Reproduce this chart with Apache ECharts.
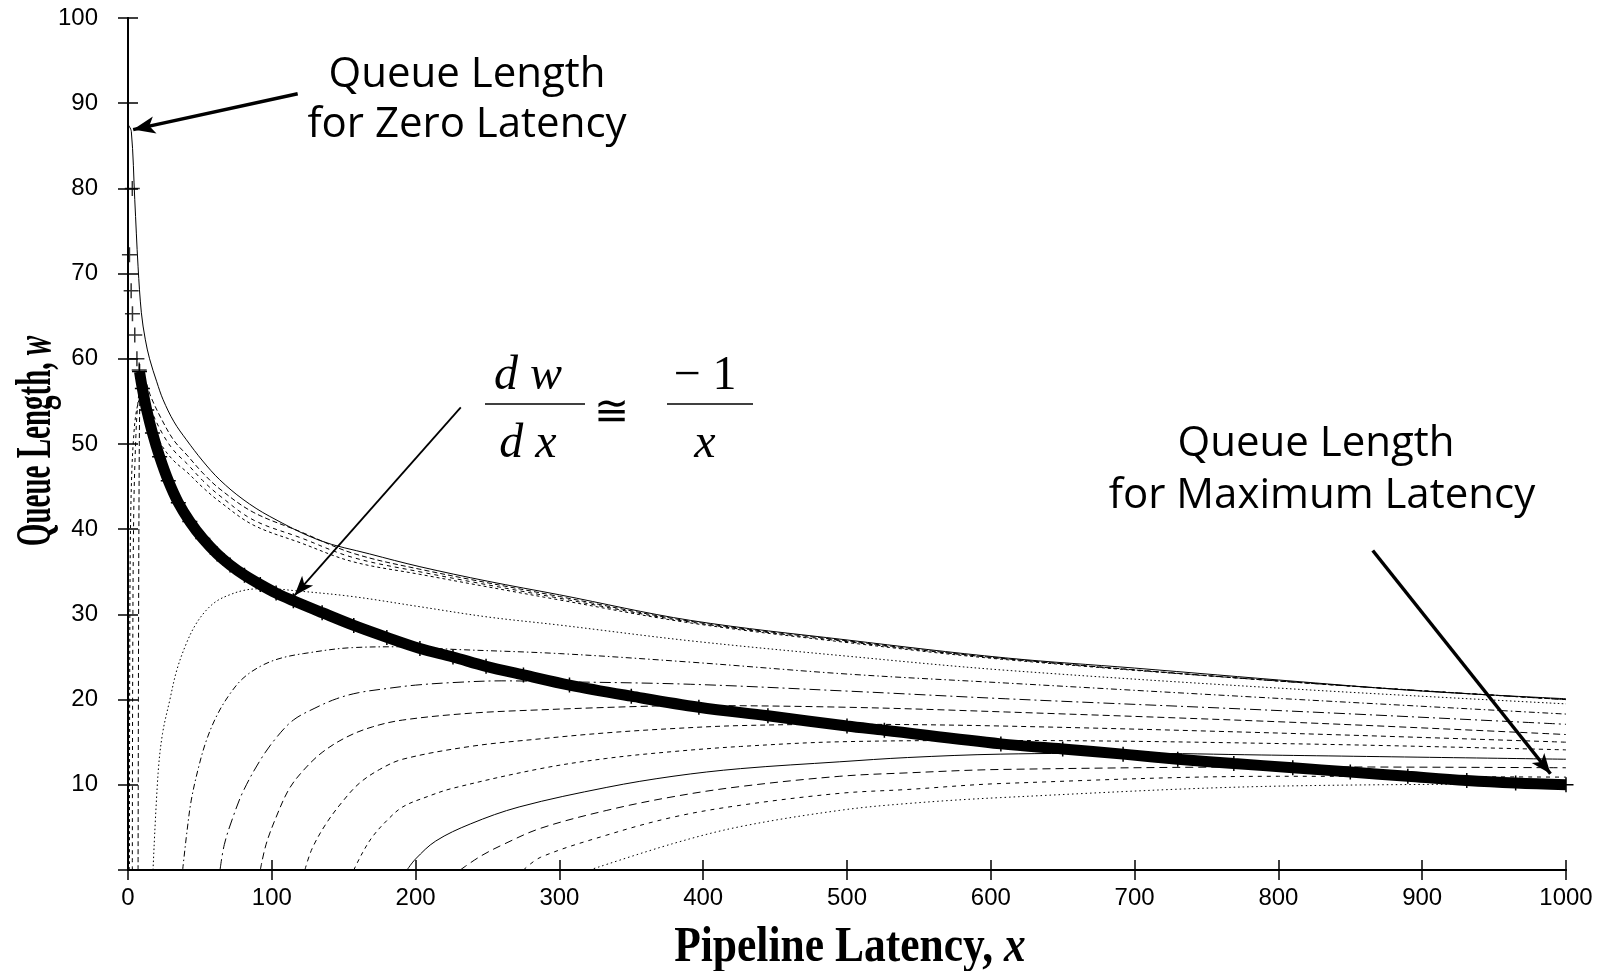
<!DOCTYPE html>
<html>
<head>
<meta charset="utf-8">
<title>Queue Length vs Pipeline Latency</title>
<script src="https://cdn.jsdelivr.net/npm/echarts/dist/echarts.min.js"></script>
<style>
  html, body { margin: 0; padding: 0; background: #fff; }
  #main { width: 1610px; height: 971px; }
</style>
</head>
<body>
<div id="main"></div>
<script>
// axis ticks
var xTicks = [0, 100, 200, 300, 400, 500, 600, 700, 800, 900, 1000];
var yTicks = [0, 10, 20, 30, 40, 50, 60, 70, 80, 90, 100];

// queue length for zero latency (top solid curve)
var zeroLat = [[0,87.5],[2.3,86.7],[4.7,78.7],[7,70.8],[9.3,65.4],[12,62.3],[15,60],[20,57.3],[24.4,55.2],[32,52.6],[40.6,50.5],[52,48],[63.8,45.8],[80,43.5],[98.6,41.5],[133,38.7],[168,37.1],[203,35.6],[250,33.9],[300,32.3],[391,29.3],[500,27],[610,24.9],[700,23.7],[815,22.1],[900,21],[1000,20.1]];

// dashed curves just under it
var upper1 = [[7,0],[7.3,25],[7.7,45],[8.2,55],[9,58.5],[12,57.5],[16,55.5],[24,52.7],[32,50.4],[41,48.7],[52,46.6],[64,44.7],[87,42],[120,39.7],[156,37.2],[203,35.3],[300,32.1],[391,29.2],[500,26.9],[610,24.8],[815,22],[1000,20]];
var upper2 = [[3,0],[3.3,25],[4,42],[5.5,51],[7,55],[9,57],[12,56],[16,54],[24,51.2],[32,49.2],[41,47.7],[52,45.7],[64,43.9],[87,41.1],[120,39],[156,36.7],[203,35],[300,31.9],[391,29.1],[500,26.8],[610,24.8],[815,22],[1000,20]];
var upper3 = [[1,0],[1.2,25],[1.6,38],[2.5,46],[4,51],[6,54],[9,55.5],[12,54.5],[16,52.5],[24,49.7],[32,48],[41,46.7],[52,44.9],[64,43.2],[87,40.5],[120,38.4],[156,36.2],[203,34.7],[300,31.7],[391,29],[500,26.7],[610,24.7],[815,22],[1000,20]];

// curves rising from zero, named by where they leave the x axis
var rise17 = [[17.4,0],[20.9,11.3],[24,16],[29,19.9],[34,23.5],[40.6,26.6],[47,28.8],[54.5,30.5],[62,31.6],[70.7,32.3],[80,32.8],[90,33],[100,33],[115,32.8],[156,32.1],[203,30.9],[250,29.7],[300,28.75],[391,26.9],[500,25.1],[610,23.45],[815,21.2],[1000,19.5]];
var rise38 = [[38,0],[41,4.5],[44,8.2],[49,12],[54.5,15.2],[62,18.2],[71,20.7],[80,22.5],[92,23.9],[105,24.8],[122,25.4],[156,26.1],[190,26.2],[226,25.9],[300,25.4],[391,24.4],[500,23],[610,21.95],[815,20],[1000,18.3]];
var rise64 = [[64,0],[67,3],[73,6.2],[80,9.2],[92,12.9],[103,15.5],[115,17.6],[130,19],[145,20.1],[160,20.8],[180,21.3],[200,21.7],[226,22],[260,22.2],[300,22.1],[391,21.8],[500,21],[610,20.1],[815,18.6],[1000,17.1]];
var rise92 = [[92,0],[96,3],[103,6.2],[112,9.5],[122,11.7],[135,13.8],[152,15.6],[170,16.8],[191,17.6],[238,18.4],[287,18.8],[356,19.2],[391,19.3],[500,19.1],[610,18.55],[815,17.3],[1000,15.9]];
var rise123 = [[123,0],[128,2.5],[138,5.5],[150,8.2],[161,10.2],[175,11.8],[191,13],[238,14.5],[287,15.4],[333,16.1],[379,16.6],[426,16.95],[500,17.1],[607,16.9],[815,16],[1000,15]];
var rise157 = [[157,0],[163,2],[170,3.9],[180,5.8],[191,7.4],[208,8.6],[226,9.6],[287,11.9],[333,13.1],[379,13.9],[426,14.5],[495,15.05],[610,15.2],[815,14.8],[1000,14.1]];
var rise194 = [[194,0],[200,1.3],[214,3.4],[238,5.4],[272,7.4],[333,9.7],[379,11],[426,11.9],[495,12.7],[542,13.2],[607,13.6],[700,13.7],[788,13.5],[1000,13]];
var rise231 = [[231,0],[245,1.6],[261,3],[287,4.9],[333,7],[379,8.6],[426,9.8],[495,11],[542,11.4],[607,11.8],[815,12.1],[1000,12]];
var rise275 = [[275,0],[287,1.5],[333,4.1],[379,6.2],[426,7.6],[495,9],[542,9.45],[607,10.15],[800,11],[1000,10.9]];
var rise321 = [[321,0],[379,3.1],[426,5.1],[495,7],[542,7.8],[607,8.5],[788,9.8],[1000,10.1]];

// the thick "+" curve where each queue length peaks
var peakCurve = [[8,58.5],[10,56.5],[13,54],[17,51.3],[22,48.5],[28,45.7],[35,43.1],[43,40.9],[52,38.9],[62,37.1],[71,35.8],[81,34.6],[92,33.5],[103,32.5],[115,31.6],[135,30.2],[157,28.7],[180,27.3],[203,26],[226,25],[249,23.9],[275,22.9],[307,21.7],[350,20.4],[397,19.1],[445,18.1],[500,16.9],[526,16.4],[607,14.8],[650,14.2],[692,13.6],[730,13],[769,12.5],[810,12],[850,11.5],[890,11],[931,10.5],[965,10.2],[1000,10]];
var peakMarks = [[3,80],[1,72.2],[2.2,68],[3.1,65.3],[4.7,62.8],[6.2,60],[7.8,58.7]];

var PLUS = 'path://M0,6L12,6M6,0L6,12';

function thin(data, dash) {
    return {
        type: 'line',
        data: data,
        smooth: 0.35,
        showSymbol: false,
        silent: true,
        lineStyle: { color: '#000', width: 1, type: dash },
        z: 2
    };
}

var myChart = echarts.init(document.getElementById('main'));

var axisFont = { color: '#000', fontSize: 24, fontFamily: 'Liberation Sans, Arial, sans-serif' };
var comic = '42px "Comic Sans MS", "Open Sans", sans-serif';
var titleRich = {
    t: { fontFamily: 'Liberation Serif', fontWeight: 'bold', fontSize: 50, fill: '#000' },
    i: { fontFamily: 'Liberation Serif', fontWeight: 'bold', fontStyle: 'italic', fontSize: 50, fill: '#000' }
};

var option = {
    backgroundColor: '#fff',
    animation: false,
    grid: { left: 128, right: 44, top: 18, bottom: 101 },
    xAxis: [
        {
            type: 'value', min: xTicks[0], max: xTicks[xTicks.length - 1], interval: 100,
            axisLine: { lineStyle: { color: '#000', width: 2 } },
            axisTick: { inside: true, length: 10, lineStyle: { color: '#000', width: 1.5 } },
            axisLabel: Object.assign({ margin: 16, formatter: function (v) { return String(v); } }, axisFont),
            splitLine: { show: false }
        },
        {
            type: 'value', position: 'top', min: 0, max: 1000, interval: 100,
            axisLine: { lineStyle: { color: '#000', width: 2 } },
            axisTick: { inside: true, length: 10, lineStyle: { color: '#000', width: 1.5 } },
            axisLabel: { show: false },
            splitLine: { show: false }
        }
    ],
    yAxis: [
        {
            type: 'value', min: yTicks[0], max: yTicks[yTicks.length - 1], interval: 10,
            axisLine: { lineStyle: { color: '#000', width: 2 } },
            axisTick: { inside: true, length: 10, lineStyle: { color: '#000', width: 1.5 } },
            axisLabel: Object.assign({
                margin: 30,
                formatter: function (v) { return v === 0 ? '' : String(v); }
            }, axisFont),
            splitLine: { show: false }
        },
        {
            type: 'value', position: 'right', min: 0, max: 100, interval: 10,
            axisLine: { lineStyle: { color: '#000', width: 2 } },
            axisTick: { inside: true, length: 10, lineStyle: { color: '#000', width: 1.5 } },
            axisLabel: { show: false },
            splitLine: { show: false }
        }
    ],
    series: [
        thin(zeroLat, 'solid'),
        thin(upper1, [5, 3]),
        thin(upper2, [4, 4]),
        thin(upper3, [3, 3]),
        thin(rise17, [1.5, 2.5]),
        thin(rise38, [6, 3, 1.5, 3]),
        thin(rise64, [11, 4, 2, 4]),
        thin(rise92, [7, 4]),
        thin(rise123, [5, 4]),
        thin(rise157, [4, 4]),
        thin(rise194, 'solid'),
        thin(rise231, [8, 5]),
        thin(rise275, [4, 5]),
        thin(rise321, [1.5, 3]),
        {
            type: 'line',
            data: peakCurve,
            smooth: 0.35,
            symbol: PLUS,
            symbolSize: 15,
            showSymbol: true,
            silent: true,
            itemStyle: { color: '#000', borderColor: '#000', borderWidth: 1.5 },
            lineStyle: { color: '#000', width: 11, cap: 'butt' },
            z: 5
        },
        {
            type: 'scatter',
            data: peakMarks,
            symbol: PLUS,
            symbolSize: 15,
            silent: true,
            itemStyle: { color: '#000', borderColor: '#000', borderWidth: 1.5 },
            z: 5,
            markLine: {
                silent: true,
                symbol: ['none', 'arrow'],
                label: { show: false },
                lineStyle: { color: '#000', type: 'solid', width: 3 },
                data: [
                    [{ coord: [118, 91.1], lineStyle: { width: 3.5 } }, { coord: [3.6, 86.9], symbolSize: [13, 22] }],
                    [{ coord: [231.4, 54.3], lineStyle: { width: 1.8 } }, { coord: [115.7, 32.2], symbolSize: [11, 20] }],
                    [{ coord: [865.6, 37.5], lineStyle: { width: 3.5 } }, { coord: [989.2, 11.3], symbolSize: [12, 20] }]
                ]
            }
        }
    ],
    graphic: [
        // axis titles, narrow serif like the original
        { type: 'text', x: 850, y: 948, scaleX: 0.87, style: { text: '{t|Pipeline Latency, }{i|x}', rich: titleRich, align: 'center', verticalAlign: 'middle' } },
        { type: 'text', x: 37, y: 441, rotation: Math.PI / 2, scaleX: 0.58, style: { text: '{t|Queue Length, }{i|w}', rich: titleRich, align: 'center', verticalAlign: 'middle' } },

        { type: 'text', x: 467, y: 75, style: { text: 'Queue Length', font: comic, fill: '#000', align: 'center', verticalAlign: 'middle' } },
        { type: 'text', x: 467, y: 125, style: { text: 'for Zero Latency', font: comic, fill: '#000', align: 'center', verticalAlign: 'middle' } },
        { type: 'text', x: 1316, y: 444, style: { text: 'Queue Length', font: comic, fill: '#000', align: 'center', verticalAlign: 'middle' } },
        { type: 'text', x: 1322, y: 496, style: { text: 'for Maximum Latency', font: comic, fill: '#000', align: 'center', verticalAlign: 'middle' } },

        { type: 'text', x: 528, y: 376, style: { text: 'd w', font: 'italic 48px "Liberation Serif", serif', fill: '#000', align: 'center', verticalAlign: 'middle' } },
        { type: 'line', shape: { x1: 485, y1: 404, x2: 585, y2: 404 }, style: { stroke: '#000', lineWidth: 1.5 } },
        { type: 'text', x: 528, y: 444, style: { text: 'd x', font: 'italic 48px "Liberation Serif", serif', fill: '#000', align: 'center', verticalAlign: 'middle' } },
        { type: 'text', x: 611, y: 414, style: { text: '\u2245', font: '42px "DejaVu Serif", serif', fill: '#000', align: 'center', verticalAlign: 'middle' } },
        { type: 'text', x: 705, y: 376, style: { text: '\u2212 1', font: '48px "Liberation Serif", serif', fill: '#000', align: 'center', verticalAlign: 'middle' } },
        { type: 'line', shape: { x1: 667, y1: 404, x2: 753, y2: 404 }, style: { stroke: '#000', lineWidth: 1.5 } },
        { type: 'text', x: 705, y: 444, style: { text: 'x', font: 'italic 48px "Liberation Serif", serif', fill: '#000', align: 'center', verticalAlign: 'middle' } }
    ]
};

myChart.setOption(option);
</script>
</body>
</html>
